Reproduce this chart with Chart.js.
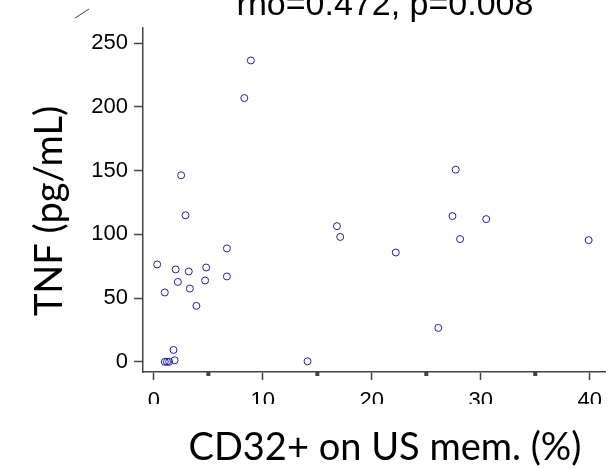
<!DOCTYPE html>
<html>
<head>
<meta charset="utf-8">
<script src="https://cdn.jsdelivr.net/npm/chart.js@4"></script>
<style>
  html, body { margin: 0; padding: 0; background: #fff; }
  #wrap { width: 614px; height: 469px; }
</style>
</head>
<body>
<div id="wrap"><canvas id="scatterChart"></canvas></div>
<script>
// values
const cd32 = [2.9, 0.3, 2.0, 3.2, 4.8, 6.7, 2.2, 4.7, 6.7, 3.3,
  1.0, 3.9, 1.8, 1.9, 1.0, 1.2, 1.4, 14.1, 16.8, 17.1,
  22.2, 8.9, 8.3, 2.5, 27.7, 27.4, 30.5, 28.1, 39.9, 26.1];
const tnf = [115, 76.4, 72.5, 70.9, 74, 89, 62.7, 63.8, 67, 57.5,
  54.4, 43.9, 9.3, 1.2, 0, 0, 0, 0.4, 106.5, 98,
  85.8, 236.5, 207, 146.4, 150.8, 114.4, 112, 96.3, 95.5, 26.6];
const xTicks = [0, 5, 10, 15, 20, 25, 30, 35, 40];
const xMinor = [5, 15, 25, 35];
const yTicks = [0, 50, 100, 150, 200, 250];
const statText = "rho=0.472, p=0.008";
const xTitle = "CD32+ on US mem. (%)";
const yTitle = "TNF (pg/mL)";

const points = cd32.map((x, i) => ({ x: x, y: tnf[i] }));
const axisColor = "#444444";

// minor square ticks, axis titles, clipped stat line, cut-off tick labels
const extras = {
  id: "extras",
  afterDraw(chart) {
    const c = chart.ctx;
    const xs = chart.scales.x;
    const bottom = chart.chartArea.bottom;
    c.save();
    c.fillStyle = axisColor;
    xMinor.forEach((v) => {
      const px = xs.getPixelForValue(v);
      c.fillRect(px - 2, bottom, 4, 4);
    });
    // the tick labels are cut off in the original
    c.fillStyle = "#fff";
    c.fillRect(130, 404, 484, 10);

    c.fillStyle = "#000";
    c.textAlign = "center";
    c.textBaseline = "alphabetic";
    c.font = "38px Lato";
    c.fillText(xTitle, 385, 460);
    c.save();
    c.translate(62, 211);
    c.rotate(-Math.PI / 2);
    c.fillText(yTitle, 0, 0);
    c.restore();

    // stat text, partly off the top
    c.font = "34px 'Liberation Sans'";
    c.fillText(statText, 385, 15);
    c.strokeStyle = "#3333aa";
    c.lineWidth = 1;
    c.beginPath();
    c.moveTo(75, 18);
    c.lineTo(89, 9);
    c.stroke();
    c.restore();
  },
};

const ctx = document.getElementById("scatterChart").getContext("2d");

new Chart(ctx, {
  type: "scatter",
  data: {
    datasets: [
      {
        label: "TNF",
        data: points,
        pointRadius: 3.5,
        pointHoverRadius: 3.5,
        pointBorderWidth: 1,
        borderColor: "#1f1f9e",
        backgroundColor: "rgba(0,0,0,0)",
      },
    ],
  },
  options: {
    responsive: true,
    maintainAspectRatio: false,
    animation: false,
    layout: { padding: { top: 28, right: 9, left: 0, bottom: 0 } },
    plugins: {
      legend: { display: false },
      tooltip: { enabled: false },
    },
    scales: {
      x: {
        type: "linear",
        min: -1,
        max: 41.4,
        afterFit: (s) => { s.height = 97; },
        afterBuildTicks: (s) => { s.ticks = xTicks.map((v) => ({ value: v })); },
        ticks: {
          autoSkip: false,
          maxRotation: 0,
          padding: 8,
          color: "#000",
          font: { family: "'Liberation Sans'", size: 22 },
          callback: (v) => (v % 10 === 0 ? String(v) : ""),
        },
        grid: {
          drawOnChartArea: false,
          drawTicks: true,
          tickLength: 8,
          tickWidth: 1.5,
          tickColor: (c) => (c.tick && c.tick.value % 10 === 0 ? axisColor : "rgba(0,0,0,0)"),
        },
        border: { display: true, color: axisColor, width: 1.5 },
      },
      y: {
        type: "linear",
        min: -8,
        max: 262,
        afterFit: (s) => { s.width = 143; },
        afterBuildTicks: (s) => { s.ticks = yTicks.map((v) => ({ value: v })); },
        ticks: {
          autoSkip: false,
          padding: 6,
          color: "#000",
          font: { family: "'Liberation Sans'", size: 22 },
        },
        grid: {
          drawOnChartArea: false,
          drawTicks: true,
          tickLength: 9,
          tickWidth: 1.5,
          tickColor: axisColor,
        },
        border: { display: true, color: axisColor, width: 1.5 },
      },
    },
  },
  plugins: [extras],
});
</script>
</body>
</html>
